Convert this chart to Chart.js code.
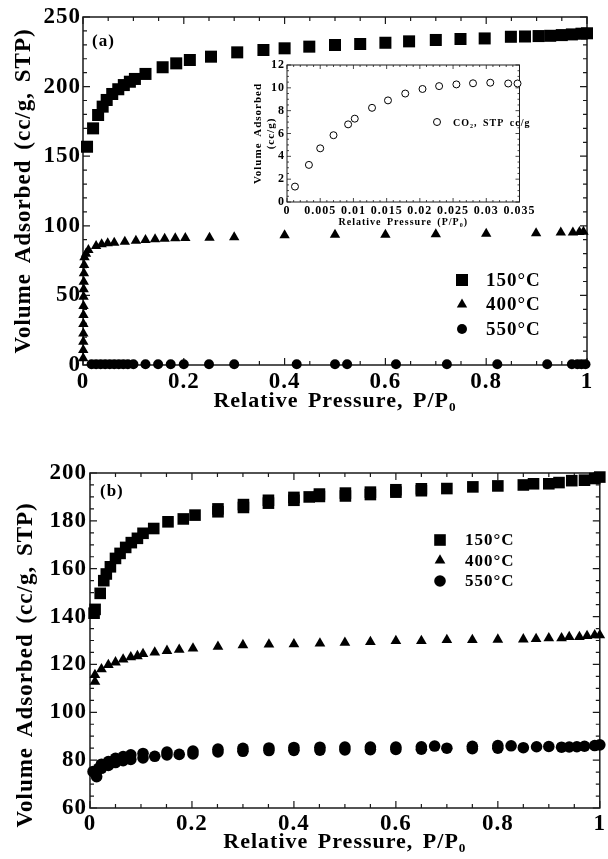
<!DOCTYPE html>
<html>
<head>
<meta charset="utf-8">
<script src="https://cdn.jsdelivr.net/npm/chart.js@4.4.1/dist/chart.umd.min.js"></script>
<style>
  html, body { margin: 0; padding: 0; background: #fff; }
  #page { position: relative; width: 608px; height: 859px; background: #fff; overflow: hidden; }
  canvas { position: absolute; }
</style>
</head>
<body>
<div id="page">
  <canvas id="chartA" width="608" height="430" style="left:0;top:0"></canvas>
  <canvas id="chartInset" width="290" height="180" style="left:245px;top:55px"></canvas>
  <canvas id="chartB" width="608" height="429" style="left:0;top:430px"></canvas>
</div>
<script>
'use strict';

// ── Panel (a): relative pressure / volume adsorbed ─────────
const a150P = [0.008, 0.020, 0.030, 0.039, 0.047, 0.058, 0.070, 0.081, 0.093, 0.103, 0.124, 0.158, 0.185, 0.212, 0.254, 0.306, 0.358, 0.400, 0.449, 0.500, 0.550, 0.600, 0.647, 0.700, 0.749, 0.797, 0.849, 0.877, 0.904, 0.927, 0.950, 0.970, 0.989, 1.000];
const a150V = [156.8, 170.0, 179.6, 185.6, 190.4, 194.7, 198.1, 201.1, 203.5, 205.5, 209.1, 213.9, 216.7, 219.1, 221.5, 224.6, 226.3, 227.5, 228.7, 229.9, 230.6, 231.5, 232.5, 233.5, 234.2, 234.6, 235.8, 236.0, 236.3, 236.5, 237.0, 237.5, 238.0, 238.3];

const a400P = [0.0004, 0.0005, 0.0006, 0.0007, 0.0008, 0.0009, 0.0010, 0.0011, 0.0013, 0.0015, 0.0018, 0.0022, 0.0030, 0.006, 0.0107, 0.026, 0.037, 0.049, 0.062, 0.083, 0.105, 0.124, 0.143, 0.162, 0.183, 0.203, 0.251, 0.300, 0.400, 0.500, 0.600, 0.700, 0.800, 0.899, 0.948, 0.972, 0.985, 0.993];
const a400V = [4.8, 10.8, 16.7, 22.7, 29.4, 35.9, 42.4, 49.1, 54.4, 59.8, 65.9, 71.8, 77.4, 80.0, 82.6, 85.5, 86.7, 87.4, 87.9, 88.6, 89.3, 89.8, 90.3, 90.7, 91.0, 91.2, 91.5, 91.7, 93.2, 93.6, 93.6, 93.9, 94.3, 94.6, 95.1, 95.1, 95.6, 95.8];

const a550P = [0.017, 0.026, 0.035, 0.044, 0.053, 0.062, 0.071, 0.080, 0.089, 0.100, 0.124, 0.149, 0.174, 0.200, 0.250, 0.300, 0.424, 0.500, 0.524, 0.621, 0.722, 0.822, 0.921, 0.970, 0.981, 0.989, 0.997];
const a550V = [0.5, 0.5, 0.5, 0.5, 0.5, 0.5, 0.5, 0.5, 0.5, 0.5, 0.5, 0.5, 0.5, 0.5, 0.5, 0.5, 0.5, 0.5, 0.5, 0.5, 0.5, 0.5, 0.5, 0.5, 0.5, 0.5, 0.5];

const aTicksX = [0, 0.2, 0.4, 0.6, 0.8, 1];
const aTicksY = [0, 50, 100, 150, 200, 250];

// ── Inset: CO2 uptake ───────────────────────────────────────
const co2P = [0.0012, 0.0033, 0.0050, 0.0070, 0.0092, 0.0102, 0.0128, 0.0152, 0.0178, 0.0204, 0.0229, 0.0255, 0.0280, 0.0306, 0.0333, 0.0347];
const co2V = [1.35, 3.25, 4.7, 5.85, 6.8, 7.3, 8.25, 8.9, 9.5, 9.9, 10.15, 10.3, 10.4, 10.45, 10.38, 10.38];
const insetTicksX = [0, 0.005, 0.01, 0.015, 0.02, 0.025, 0.03, 0.035];
const insetTicksY = [0, 2, 4, 6, 8, 10, 12];

// ── Panel (b) ───────────────────────────────────────────────
const b150P = [0.008, 0.010, 0.020, 0.027, 0.032, 0.040, 0.050, 0.059, 0.070, 0.081, 0.093, 0.104, 0.125, 0.153, 0.183, 0.206, 0.251, 0.251, 0.301, 0.301, 0.350, 0.350, 0.400, 0.400, 0.430, 0.450, 0.450, 0.501, 0.501, 0.550, 0.550, 0.600, 0.600, 0.650, 0.650, 0.700, 0.751, 0.800, 0.850, 0.870, 0.900, 0.920, 0.945, 0.970, 0.990, 1.000];
const b150V = [141.4, 143.0, 149.7, 155.0, 157.8, 160.8, 164.3, 166.4, 168.9, 170.9, 172.7, 174.8, 176.8, 179.6, 180.8, 182.4, 183.8, 185.0, 185.6, 186.8, 187.4, 188.6, 188.6, 189.8, 190.0, 190.2, 191.2, 190.4, 191.6, 191.0, 192.0, 192.0, 193.0, 192.6, 193.4, 193.5, 194.2, 194.6, 195.0, 195.5, 195.5, 196.0, 196.8, 197.0, 197.7, 198.3];

const b400P = [0.0097, 0.0097, 0.0225, 0.036, 0.050, 0.065, 0.080, 0.093, 0.104, 0.127, 0.151, 0.175, 0.202, 0.251, 0.300, 0.351, 0.400, 0.451, 0.500, 0.550, 0.600, 0.650, 0.700, 0.750, 0.800, 0.850, 0.875, 0.900, 0.925, 0.940, 0.960, 0.975, 0.990, 1.000];
const b400V = [112.8, 115.6, 118.0, 119.8, 120.9, 122.1, 123.0, 123.5, 124.4, 125.0, 125.7, 126.2, 126.7, 127.4, 128.1, 128.4, 128.5, 128.8, 129.1, 129.4, 129.8, 129.8, 130.2, 130.2, 130.4, 130.5, 130.7, 131.0, 131.0, 131.5, 131.5, 131.9, 132.2, 132.2];

const b550P = [0.006, 0.013, 0.017, 0.0225, 0.0225, 0.036, 0.036, 0.050, 0.050, 0.065, 0.065, 0.080, 0.080, 0.104, 0.104, 0.127, 0.151, 0.151, 0.175, 0.202, 0.202, 0.251, 0.251, 0.300, 0.300, 0.351, 0.351, 0.400, 0.400, 0.451, 0.451, 0.500, 0.500, 0.550, 0.550, 0.600, 0.600, 0.650, 0.650, 0.676, 0.700, 0.750, 0.750, 0.800, 0.800, 0.826, 0.850, 0.876, 0.900, 0.925, 0.940, 0.955, 0.970, 0.990, 1.000];
const b550V = [75.2, 73.1, 76.6, 78.3, 76.6, 79.4, 77.8, 80.8, 79.0, 81.5, 79.8, 82.2, 80.3, 82.8, 80.9, 81.6, 83.4, 82.2, 82.4, 83.8, 82.6, 84.6, 83.4, 84.9, 83.7, 85.1, 84.0, 85.3, 84.1, 85.4, 84.2, 85.5, 84.3, 85.5, 84.4, 85.5, 84.5, 85.6, 84.6, 85.9, 85.0, 85.8, 84.8, 86.1, 85.0, 86.0, 85.2, 85.6, 85.7, 85.4, 85.5, 85.6, 85.8, 86.1, 86.4];

const bTicksX = [0, 0.2, 0.4, 0.6, 0.8, 1];
const bTicksY = [60, 80, 100, 120, 140, 160, 180, 200];

const seriesLabels = ['150°C', '400°C', '550°C'];
const insetLabel = 'CO₂, STP cc/g';

const SERIF = "'Liberation Serif', 'Times New Roman', serif";
const INK = '#000';

function toPoints(xs, ys) {
  return xs.map((x, i) => ({ x, y: ys[i] }));
}

function serif(size, lineHeight) {
  return { family: SERIF, size, weight: 'bold', lineHeight: lineHeight || 1.2 };
}

// ── marker / ticks / frame / legend, drawn on the canvas ─────
function drawMarker(ctx, style, r, x, y, fill, stroke, lw) {
  ctx.beginPath();
  if (style === 'rect') {
    const h = r * Math.SQRT1_2;
    ctx.rect(x - h, y - h, 2 * h, 2 * h);
  } else if (style === 'triangle') {
    for (let k = 0; k < 3; k++) {
      const a = k * 2 * Math.PI / 3;
      const px = x + Math.sin(a) * r, py = y - Math.cos(a) * r;
      if (k === 0) ctx.moveTo(px, py); else ctx.lineTo(px, py);
    }
    ctx.closePath();
  } else {
    ctx.arc(x, y, r, 0, Math.PI * 2);
  }
  ctx.fillStyle = fill;
  ctx.fill();
  if (lw > 0) { ctx.lineWidth = lw; ctx.strokeStyle = stroke; ctx.stroke(); }
}

function axisTicks(ctx, scale, ca, step, horizontal, majLen, minLen) {
  const majors = scale.ticks.map((t) => t.value);
  const n = Math.round((scale.max - scale.min) / step);
  for (let i = 0; i <= n; i++) {
    const v = scale.min + i * step;
    const len = majors.some((m) => Math.abs(m - v) < step / 100) ? majLen : minLen;
    const p = scale.getPixelForValue(v);
    ctx.beginPath();
    if (horizontal) {
      ctx.moveTo(p, ca.bottom); ctx.lineTo(p, ca.bottom - len);
      ctx.moveTo(p, ca.top);    ctx.lineTo(p, ca.top + len);
    } else {
      ctx.moveTo(ca.left, p);  ctx.lineTo(ca.left + len, p);
      ctx.moveTo(ca.right, p); ctx.lineTo(ca.right - len, p);
    }
    ctx.stroke();
  }
}

const decoPlugin = {
  id: 'deco',
  beforeDraw(chart, args, opts) {
    chart.ctx.letterSpacing = opts.letterSpacing || '0px';
    chart.ctx.wordSpacing = opts.wordSpacing || '0px';
  },
  beforeDatasetsDraw(chart, args, opts) {
    const { ctx, chartArea: ca, scales } = chart;
    ctx.save();
    ctx.strokeStyle = '#1a1a1a';
    ctx.lineWidth = opts.frameWidth;
    ctx.strokeRect(ca.left, ca.top, ca.right - ca.left, ca.bottom - ca.top);
    ctx.lineWidth = opts.tickWidth;
    axisTicks(ctx, scales.x, ca, opts.minorX, true, opts.majorLen, opts.minorLen);
    axisTicks(ctx, scales.y, ca, opts.minorY, false, opts.majorLen, opts.minorLen);
    ctx.restore();
  },
  afterDraw(chart, args, opts) {
    const { ctx } = chart;
    ctx.save();
    ctx.fillStyle = INK;
    ctx.textBaseline = 'middle';
    ctx.textAlign = 'left';
    if (opts.tag) {
      ctx.font = `bold ${opts.tag.size}px ${SERIF}`;
      ctx.fillText(opts.tag.text, opts.tag.x, opts.tag.y);
    }
    const lg = opts.legend;
    if (lg) {
      chart.data.datasets.forEach((ds, i) => {
        const y = lg.y + i * lg.dy;
        drawMarker(ctx, ds.pointStyle, ds.pointRadius, lg.x, y, ds.backgroundColor, ds.borderColor, ds.borderWidth);
        ctx.fillStyle = INK;
        ctx.font = `bold ${lg.size}px ${SERIF}`;
        ctx.fillText(ds.label, lg.textX, y + 1);
      });
    }
    ctx.restore();
  },
};

function linearAxis(o) {
  return {
    type: 'linear',
    min: o.min,
    max: o.max,
    afterBuildTicks: (s) => { s.ticks = o.ticks.map((v) => ({ value: v })); },
    afterFit: (s) => { if (o.width != null) s.width = o.width; if (o.height != null) s.height = o.height; },
    ticks: {
      color: INK,
      font: serif(o.tickSize),
      padding: o.tickPad,
      autoSkip: false,
      maxRotation: 0,
      minRotation: 0,
      callback: (v) => String(v),
    },
    grid: { display: false, drawTicks: false },
    border: { display: false },
    title: {
      display: true,
      text: o.title,
      color: INK,
      font: serif(o.titleSize, o.titleLH),
      padding: o.titlePad,
    },
  };
}

function markerSet(label, xs, ys, style, r) {
  return {
    label,
    data: toPoints(xs, ys),
    pointStyle: style,
    pointRadius: r,
    backgroundColor: INK,
    borderColor: INK,
    borderWidth: 0,
    clip: false,
  };
}

const X_TITLE = 'Relative Pressure, P/P₀';
const Y_TITLE = 'Volume Adsorbed (cc/g, STP)';

// ── Panel (a) ────────────────────────────────────────────────
new Chart(document.getElementById('chartA'), {
  type: 'scatter',
  data: {
    datasets: [
      markerSet(seriesLabels[0], a150P, a150V, 'rect', 8.5),
      markerSet(seriesLabels[1], a400P, a400V, 'triangle', 6),
      markerSet(seriesLabels[2], a550P, a550V, 'circle', 5),
    ],
  },
  options: {
    responsive: false,
    devicePixelRatio: 1,
    animation: false,
    events: [],
    layout: { padding: { top: 17, right: 21, left: 0, bottom: 0 } },
    scales: {
      x: linearAxis({ min: 0, max: 1, ticks: aTicksX, height: 65, tickSize: 23, tickPad: 3,
        title: X_TITLE, titleSize: 22, titlePad: { top: 0, bottom: 15 } }),
      y: linearAxis({ min: 0, max: 250, ticks: aTicksY, width: 83, tickSize: 23, tickPad: 2,
        title: Y_TITLE, titleSize: 23, titlePad: { top: 10, bottom: 0 } }),
    },
    plugins: {
      legend: { display: false },
      tooltip: { enabled: false },
      deco: {
        letterSpacing: '1px', wordSpacing: '3px',
        frameWidth: 1.5, tickWidth: 1.2, majorLen: 7, minorLen: 4, minorX: 0.05, minorY: 10,
        tag: { text: '(a)', x: 92, y: 42, size: 17 },
        legend: { x: 462, y: 280, dy: 24.5, textX: 486, size: 19 },
      },
    },
  },
  plugins: [decoPlugin],
});

// ── Inset of panel (a) ───────────────────────────────────────
new Chart(document.getElementById('chartInset'), {
  type: 'scatter',
  data: {
    datasets: [{
      label: insetLabel,
      data: toPoints(co2P, co2V),
      pointStyle: 'circle',
      pointRadius: 3.5,
      backgroundColor: '#fff',
      borderColor: INK,
      borderWidth: 1,
      clip: false,
    }],
  },
  options: {
    responsive: false,
    devicePixelRatio: 1,
    animation: false,
    events: [],
    layout: { padding: { top: 10, right: 15, left: 0, bottom: 0 } },
    scales: {
      x: linearAxis({ min: 0, max: 0.035, ticks: insetTicksX, height: 33, tickSize: 12, tickPad: 2,
        title: 'Relative Pressure (P/P₀)', titleSize: 10, titlePad: { top: 0, bottom: 7 } }),
      y: linearAxis({ min: 0, max: 12, ticks: insetTicksY, width: 42, tickSize: 12, tickPad: 2,
        title: ['Volume Adsorbed', '(cc/g)'], titleSize: 11, titleLH: 1.15, titlePad: { top: 7, bottom: 0 } }),
    },
    plugins: {
      legend: { display: false },
      tooltip: { enabled: false },
      deco: {
        letterSpacing: '1px', wordSpacing: '2px',
        frameWidth: 1, tickWidth: 0.8, majorLen: 4, minorLen: 2, minorX: 0.001, minorY: 0.5,
        legend: { x: 192, y: 67, dy: 0, textX: 208, size: 10 },
      },
    },
  },
  plugins: [decoPlugin],
});

// ── Panel (b) ────────────────────────────────────────────────
new Chart(document.getElementById('chartB'), {
  type: 'scatter',
  data: {
    datasets: [
      markerSet(seriesLabels[0], b150P, b150V, 'rect', 8.2),
      markerSet(seriesLabels[1], b400P, b400V, 'triangle', 6.2),
      markerSet(seriesLabels[2], b550P, b550V, 'circle', 5.8),
    ],
  },
  options: {
    responsive: false,
    devicePixelRatio: 1,
    animation: false,
    events: [],
    layout: { padding: { top: 43, right: 4, left: 0, bottom: 0 } },
    scales: {
      x: linearAxis({ min: 0, max: 1, ticks: bTicksX, height: 51, tickSize: 23, tickPad: 2,
        title: X_TITLE, titleSize: 22, titlePad: { top: 0, bottom: 3 } }),
      y: linearAxis({ min: 60, max: 200, ticks: bTicksY, width: 90, tickSize: 23, tickPad: 3,
        title: Y_TITLE + '\u00A0\u00A0\u00A0\u00A0\u00A0', titleSize: 23, titlePad: { top: 12, bottom: 0 } }),
    },
    plugins: {
      legend: { display: false },
      tooltip: { enabled: false },
      deco: {
        letterSpacing: '1px', wordSpacing: '3px',
        frameWidth: 1.5, tickWidth: 1.2, majorLen: 7, minorLen: 4, minorX: 0.05, minorY: 5,
        tag: { text: '(b)', x: 100, y: 62, size: 17 },
        legend: { x: 440, y: 110, dy: 20.5, textX: 465, size: 17 },
      },
    },
  },
  plugins: [decoPlugin],
});
</script>
</body>
</html>
